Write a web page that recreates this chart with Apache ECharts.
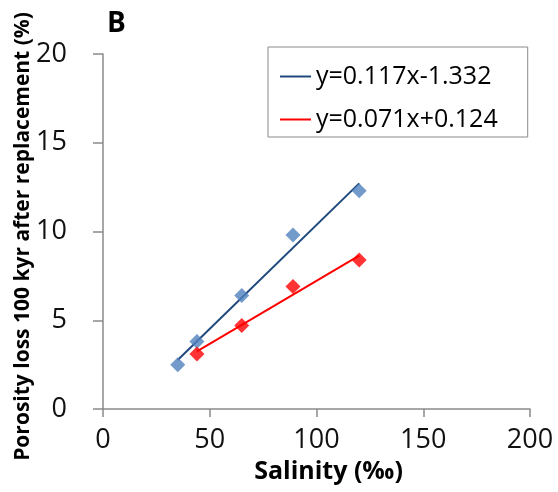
<!DOCTYPE html>
<html>
<head>
<meta charset="utf-8">
<script src="https://cdn.jsdelivr.net/npm/echarts@6/dist/echarts.min.js"></script>
<style>
  html, body { margin: 0; padding: 0; background: #fff; }
  #chart { width: 558px; height: 492px; }
</style>
</head>
<body>
<div id="chart"></div>
<script>
// salinity (per mil) vs porosity loss (%)
var bluePoints = [[35, 2.5], [44, 3.8], [65, 6.4], [89, 9.8], [120, 12.3]];
var redPoints = [[44, 3.1], [65, 4.7], [89, 6.9], [120, 8.4]];
// fitted lines, read at their ends
var blueFit = [[35, 2.76], [120, 12.71]];
var redFit = [[44, 3.25], [120, 8.64]];
var fitNames = ['y=0.117x-1.332', 'y=0.071x+0.124'];
var xTicks = [0, 50, 100, 150, 200];
var yTicks = [0, 5, 10, 15, 20];

var font = '"Open Sans", "DejaVu Sans", sans-serif';
var axisGray = '#8a8a8a';

var chart = echarts.init(document.getElementById('chart'), null, { renderer: 'canvas' });

var option = {
  animation: false,
  backgroundColor: '#fff',
  title: {
    text: 'B',
    left: 102,
    top: 5,
    textStyle: { fontFamily: font, fontSize: 28, fontWeight: 'bold', color: '#000' }
  },
  legend: {
    data: fitNames,
    orient: 'vertical',
    left: 268,
    top: 47,
    padding: [17, 30, 5, 12],
    itemGap: 18,
    itemWidth: 31,
    itemHeight: 2,
    icon: 'rect',
    borderColor: '#8a8a8a',
    borderWidth: 1,
    textStyle: { fontFamily: font, fontSize: 25, color: '#000' }
  },
  grid: { left: 103, right: 28, top: 54, bottom: 83, containLabel: false, outerBoundsMode: 'none' },
  xAxis: {
    type: 'value',
    min: xTicks[0],
    max: xTicks[xTicks.length - 1],
    interval: 50,
    name: 'Salinity (‰)',
    nameLocation: 'middle',
    nameGap: 50,
    nameTextStyle: { fontFamily: font, fontSize: 25, fontWeight: 'bold', color: '#000', padding: [0, 0, 0, 24] },
    axisLine: { lineStyle: { color: axisGray, width: 1.5 } },
    axisTick: { show: true, length: 8, lineStyle: { color: axisGray, width: 1.5 } },
    axisLabel: { margin: 18, fontFamily: font, fontSize: 27, color: '#111' },
    splitLine: { show: false }
  },
  yAxis: {
    type: 'value',
    min: yTicks[0],
    max: yTicks[yTicks.length - 1],
    interval: 5,
    name: 'Porosity loss 100 kyr after replacement (%)',
    nameLocation: 'middle',
    nameGap: 69,
    nameMoveOverlap: false,
    nameTextStyle: { fontFamily: font, fontSize: 21, fontWeight: 'bold', color: '#000', padding: [0, 10, 0, 0] },
    axisLine: { show: true, lineStyle: { color: axisGray, width: 1.5 } },
    axisTick: { show: true, length: 10, lineStyle: { color: axisGray, width: 1.5 } },
    axisLabel: { margin: 36, fontFamily: font, fontSize: 27, color: '#111' },
    splitLine: { show: false }
  },
  series: [
    {
      name: fitNames[0],
      type: 'line',
      data: blueFit,
      symbol: 'none',
      color: '#1f497d',
      lineStyle: { color: '#1f497d', width: 2 },
      z: 2
    },
    {
      name: fitNames[1],
      type: 'line',
      data: redFit,
      symbol: 'none',
      color: '#ff0000',
      lineStyle: { color: '#ff0000', width: 2 },
      z: 2
    },
    {
      name: 'blue',
      type: 'scatter',
      data: bluePoints,
      symbol: 'diamond',
      symbolSize: 15,
      itemStyle: { color: '#4f81bd' },
      z: 3
    },
    {
      name: 'red',
      type: 'scatter',
      data: redPoints,
      symbol: 'diamond',
      symbolSize: 15,
      itemStyle: { color: '#ff0000' },
      z: 3
    }
  ]
};

chart.setOption(option);
</script>
</body>
</html>
